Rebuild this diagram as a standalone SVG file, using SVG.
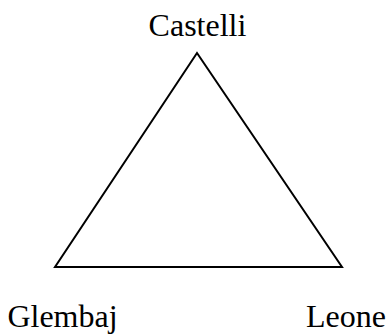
<svg xmlns="http://www.w3.org/2000/svg" width="389" height="335" viewBox="0 0 389 335">
<style>
text{font-family:"Liberation Serif","Times New Roman",serif;font-size:32px;fill:#000}
.edge{stroke:#000;stroke-width:2;fill:none;stroke-linejoin:miter}
</style>
<rect width="389" height="335" fill="#fff"/>
<g id="connectors">
<polygon class="edge" points="197,53 55,267 342,267"/>
</g>
<g id="castelli"><text x="197.5" y="36" text-anchor="middle">Castelli</text></g>
<g id="glembaj"><text x="62.5" y="327" text-anchor="middle">Glembaj</text></g>
<g id="leone"><text x="346" y="327" text-anchor="middle">Leone</text></g>
</svg>
